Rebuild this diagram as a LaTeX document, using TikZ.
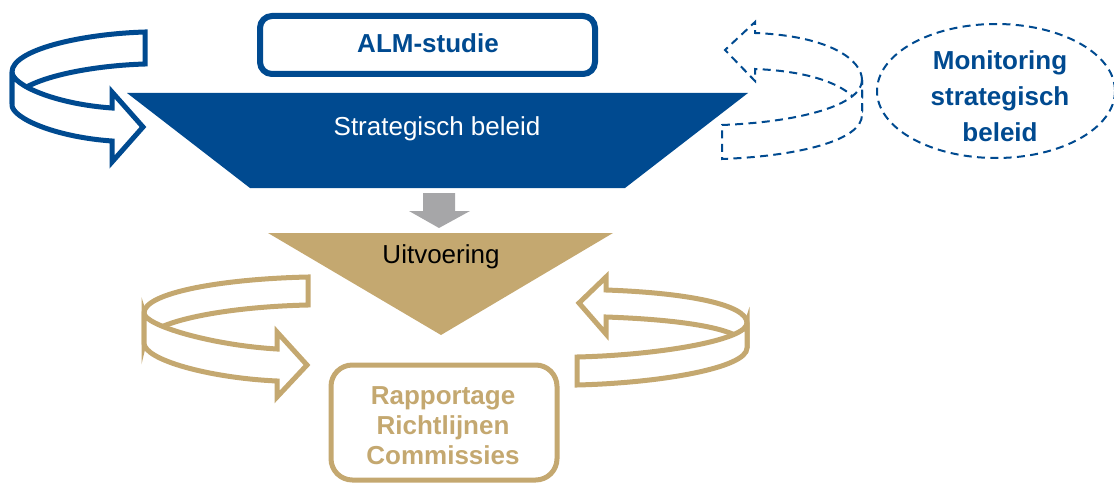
\documentclass[tikz,border=0pt]{standalone}
\usepackage{fontspec}
\setmainfont{Liberation Sans}
\definecolor{almblue}{RGB}{0,74,144}
\definecolor{almtan}{RGB}{196,168,112}
\definecolor{almgray}{RGB}{166,166,168}
\begin{document}
\begin{tikzpicture}[x=0.75pt,y=-0.75pt,
  bluering/.style={draw=almblue,line width=3.75pt,line join=miter,miter limit=10,fill=white},
  tanring/.style={draw=almtan,line width=3.75pt,line join=miter,miter limit=10,fill=white},
  dashring/.style={draw=almblue,line width=1.5pt,dash pattern=on 6pt off 4pt,fill=white},
  lbl/.style={font=\fontsize{19.5}{22.5}\selectfont,inner sep=0pt,anchor=base},
  blbl/.style={lbl,font=\fontsize{19.5}{22.5}\selectfont\bfseries}]
\useasboundingbox (0,0) rectangle (1114,485);

% ALM-studie box
\draw[almblue,line width=4.5pt,rounded corners=9pt] (260,16) rectangle (595,74);
\node[blbl,text=almblue] (alm) at (428,53) {ALM-studie};

% Strategisch beleid trapezoid
\fill[almblue] (127,93) -- (748,93) -- (625,188) -- (250,188) -- cycle;
\node[lbl,text=white] (strat) at (437,135) {Strategisch beleid};

% gray arrow
\fill[almgray] (423,193) -- (455,193) -- (455,211) -- (470,211) -- (439,228) -- (409,211) -- (423,211) -- cycle;

% Uitvoering triangle
\fill[almtan] (268,233) -- (613,233) -- (441,335) -- cycle;
\node[lbl,text=black] (uitv) at (441,263) {Uitvoering};

% Rapportage box
\draw[almtan,line width=3.75pt,rounded corners=16pt] (331,365) rectangle (557,480);
\node[blbl,text=almtan,align=center,anchor=north] (rapp) at (443,386) {Rapportage\\Richtlijnen\\Commissies};

% Monitoring ellipse
\draw[dashring] (996,91) ellipse [x radius=119, y radius=67];
\node[blbl,text=almblue,align=center,anchor=north,font=\fontsize{19.5}{27}\selectfont\bfseries] (mon) at (1000,50) {Monitoring\\strategisch\\beleid};

% blue ring arrow (left top)
\draw[bluering] (12,72) .. controls (12,50) and (80,34) .. (145,32) -- (145,64)
   .. controls (80,66) and (12,82) .. (12,104) -- cycle;
\draw[bluering] (12,72) .. controls (12,85) and (55,104) .. (112,108) -- (112,92) -- (143,127)
   -- (112,162) -- (112,141) .. controls (55,137) and (12,118) .. (12,105) -- cycle;

% tan ring arrow (left bottom)
\draw[tanring] (144,313) .. controls (144,293) and (220,279) .. (308,277) -- (308,305)
   .. controls (220,307) and (144,323) .. (144,343) -- cycle;
\draw[tanring] (144,313) .. controls (144,325) and (210,345) .. (277,349) -- (277,332) -- (307,365)
   -- (277,397) -- (277,381) .. controls (210,378) and (144,360) .. (144,343) -- cycle;

% tan ring arrow (right)
\draw[tanring] (747,323) .. controls (747,305) and (690,293) .. (606,290) -- (606,277) -- (579,303)
   -- (606,334) -- (606,317) .. controls (690,320) and (747,330) .. (747,348) -- cycle;
\draw[tanring] (747,323) .. controls (747,340) and (660,355) .. (577,357) -- (577,385)
   .. controls (660,383) and (747,368) .. (747,348) -- cycle;

% dashed ring arrow (right top)
\draw[dashring] (862,80) .. controls (862,60) and (830,36) .. (755,33) -- (755,22) -- (725,50)
   -- (755,81) -- (755,69) .. controls (830,72) and (862,95) .. (862,115) -- cycle;
\draw[dashring] (862,80) .. controls (862,105) and (800,122) .. (722,125) -- (722,159)
   .. controls (800,156) and (862,140) .. (862,115) -- cycle;
\end{tikzpicture}
\end{document}
